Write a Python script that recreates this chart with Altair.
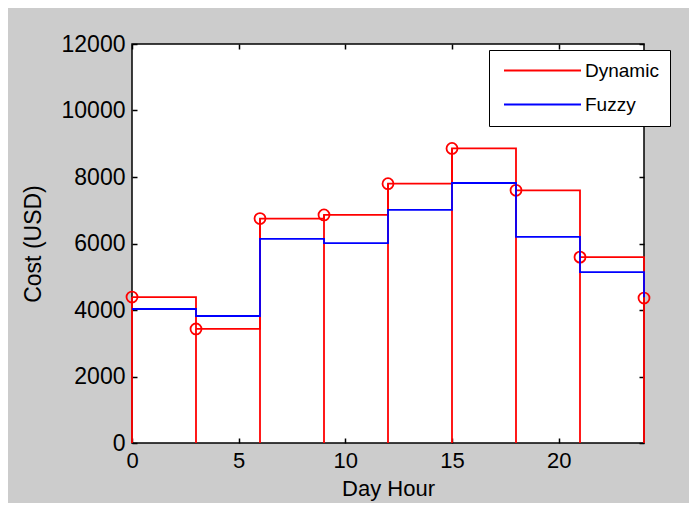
import altair as alt
import pandas as pd

# ---- data ----
hours = [0, 3, 6, 9, 12, 15, 18, 21, 24]
dynamic = [4390, 3430, 6750, 6860, 7800, 8860, 7600, 5590, 4360]
fuzzy = [4030, 3820, 6140, 6010, 7010, 7820, 6200, 5140, 4380]
series_names = ["Dynamic", "Fuzzy"]
series_colors = ["#ff0000", "#0000ff"]
x_ticks = [0, 5, 10, 15, 20]
y_ticks = [0, 2000, 4000, 6000, 8000, 10000, 12000]

wide = pd.DataFrame({"hour": hours, "Dynamic": dynamic, "Fuzzy": fuzzy})
long = wide.melt(id_vars="hour", var_name="series", value_name="cost")

FONT = "Liberation Sans"
xscale = alt.Scale(domain=[0, 24], nice=False, zero=False)
yscale = alt.Scale(domain=[0, 12000], nice=False)

x_bottom = alt.Axis(values=x_ticks, title="Day Hour", orient="bottom", offset=-5, tickSize=5,
                    domain=False, grid=False, labelPadding=7, titlePadding=7, format="d",
                    labelFlush=False, labelOverlap=False,
                    labelFontSize=22, titleFontSize=22, labelFont=FONT, titleFont=FONT,
                    titleFontWeight="normal", labelColor="black", titleColor="black",
                    tickColor="black", tickWidth=1.5)
y_left = alt.Axis(values=y_ticks, title="Cost (USD)", orient="left", offset=-5, tickSize=5,
                  domain=False, grid=False, labelPadding=7, titlePadding=16, format="d",
                  labelFlush=False, labelOverlap=False,
                  labelFontSize=23, titleFontSize=23, labelFont=FONT, titleFont=FONT,
                  titleFontWeight="normal", labelColor="black", titleColor="black",
                  tickColor="black", tickWidth=1.5)
x_top = alt.Axis(values=x_ticks, title=None, orient="top", offset=-5, tickSize=5,
                 domain=False, grid=False, labels=False, tickColor="black", tickWidth=1.5)
y_right = alt.Axis(values=y_ticks, title=None, orient="right", offset=-5, tickSize=5,
                   domain=False, grid=False, labels=False, tickColor="black", tickWidth=1.5)

stems = alt.Chart(wide).transform_calculate(zero="0").mark_rule(
    color="#ff0000", strokeWidth=1.8
).encode(
    x=alt.X("hour:Q", scale=xscale, axis=x_bottom),
    y=alt.Y("Dynamic:Q", scale=yscale, axis=y_left),
    y2="zero:Q",
)

circles = alt.Chart(wide).mark_point(
    shape="circle", filled=False, color="#ff0000", size=120, strokeWidth=1.8, opacity=1
).encode(
    x=alt.X("hour:Q", scale=xscale, axis=x_top),
    y=alt.Y("Dynamic:Q", scale=yscale, axis=y_right),
)

lines = alt.Chart(long).mark_line(interpolate="step-after", strokeWidth=1.8).encode(
    x=alt.X("hour:Q", scale=xscale, axis=None),
    y=alt.Y("cost:Q", scale=yscale, axis=None),
    color=alt.Color(
        "series:N",
        scale=alt.Scale(domain=series_names, range=series_colors),
        legend=alt.Legend(
            title=None, orient="none", legendX=357, legendY=6,
            symbolType="M-1,0H13", symbolSize=121, symbolStrokeWidth=1.8,
            labelFontSize=19, labelFont=FONT, labelColor="black", labelOffset=66,
            strokeColor="black", fillColor="white", padding=11, rowPadding=14,
        ),
    ),
    order=alt.Order("hour:Q"),
)

chart = alt.layer(stems, circles, lines).resolve_axis(
    x="independent", y="independent"
).properties(
    width=512, height=399,
    autosize=alt.AutoSizeParams(type="none"),
    padding={"left": 124, "top": 36, "right": 45, "bottom": 60},
    background="#cccccc",
).configure_view(
    stroke="black", strokeWidth=1.5, fill="white"
)

chart.save("out.html", embed_options={"renderer": "svg", "actions": False})
